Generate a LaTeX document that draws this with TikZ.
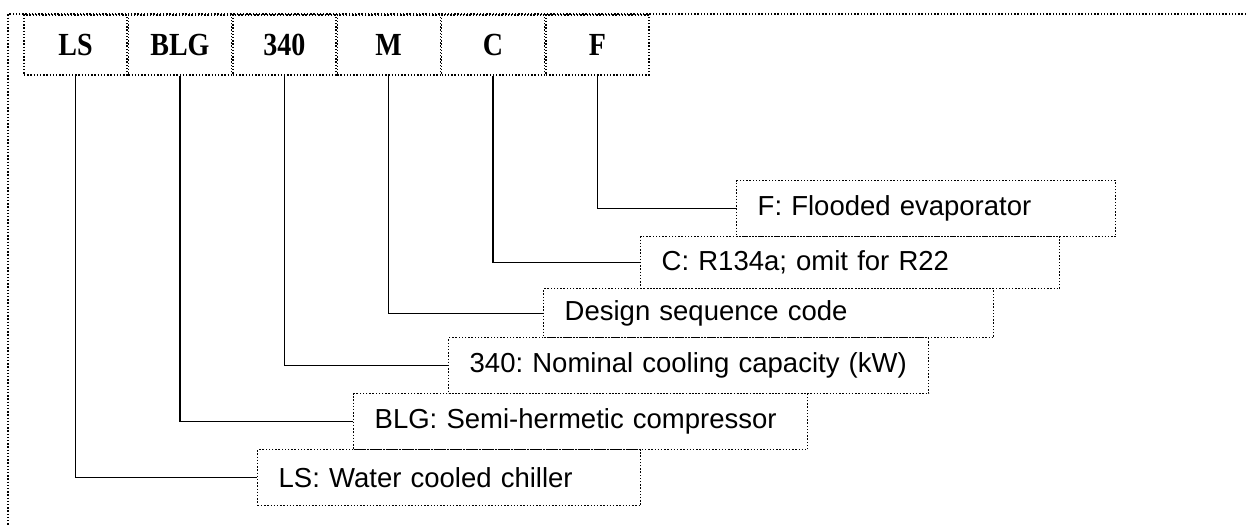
\documentclass[tikz,border=0pt]{standalone}
\usepackage{fontspec}
\usepackage{graphicx}
\setmainfont{Liberation Serif}
\newfontfamily\labelfont{Liberation Sans}
\newcommand{\tallcode}[1]{\scalebox{1}[1.15]{#1}}
\usetikzlibrary{positioning}
\frenchspacing

\begin{document}
\begin{tikzpicture}[
  x=1pt, y=-1pt,
  dotline/.style={line width=1.4pt, dash pattern=on 1.4pt off 1.8pt},
  code/.style={draw, dotline, minimum width=103pt, minimum height=60pt,
    inner sep=0pt, font=\fontsize{28}{32}\selectfont\bfseries},
  desc/.style={draw, dotline, fill=white, anchor=north west, align=left,
    inner xsep=21pt, inner ysep=0pt, font=\labelfont\fontsize{27.5}{31}\selectfont},
  link/.style={draw=black, line width=1.3pt}
]
  \useasboundingbox (0,0) rectangle (1246,525);
  \draw[dotline] (1246,14) -- (8,14) -- (8,525);

  % code letters
  \node[code] (codeLS) at (75.5,45) {\tallcode{LS}};
  \node[code, right=0pt of codeLS] (codeBLG) {\tallcode{BLG}};
  \node[code, right=0pt of codeBLG] (code340) {\tallcode{340}};
  \node[code, right=0pt of code340] (codeM) {\tallcode{M}};
  \node[code, right=0pt of codeM] (codeC) {\tallcode{C}};
  \node[code, right=0pt of codeC] (codeF) {\tallcode{F}};

  % explanations, top to bottom
  \node[desc, text width=337pt, minimum height=56pt] (descF) at (736,180) {F: Flooded evaporator};
  \node[desc, text width=377pt, minimum height=52pt] (descC) at (640,236) {C: R134a; omit for R22};
  \node[desc, text width=408pt, minimum height=49pt] (descM) at (543,288) {Design sequence code};
  \node[desc, text width=438pt, minimum height=56pt] (desc340) at (448,337) {\mbox{340: Nominal cooling capacity (kW)}};
  \node[desc, text width=412pt, minimum height=56pt] (descBLG) at (353,393) {BLG: Semi-hermetic compressor};
  \node[desc, text width=341pt, minimum height=56pt] (descLS) at (257,449) {LS: Water cooled chiller};

  \draw[link] (codeF.south) |- (descF.west);
  \draw[link] (codeC.south) |- (descC.west);
  \draw[link] (codeM.south) |- (descM.west);
  \draw[link] (code340.south) |- (desc340.west);
  \draw[link] (codeBLG.south) |- (descBLG.west);
  \draw[link] (codeLS.south) |- (descLS.west);
\end{tikzpicture}
\end{document}
